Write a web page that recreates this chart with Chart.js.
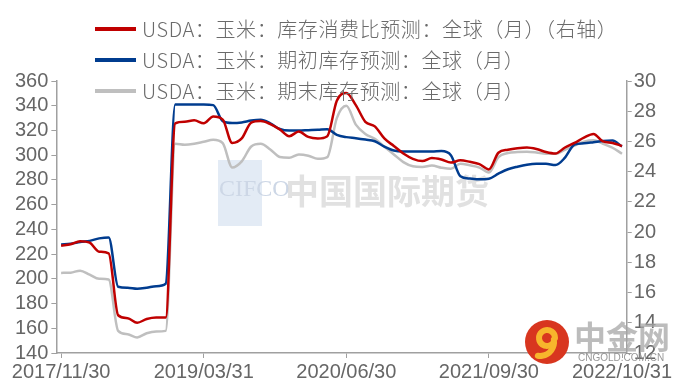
<!DOCTYPE html>
<html>
<head>
<meta charset="utf-8">
<script src="https://cdn.jsdelivr.net/npm/chart.js@4.4.1/dist/chart.umd.min.js"></script>
<style>
  html, body { margin: 0; padding: 0; background: #fff; }
  #wrap { position: relative; width: 680px; height: 392px; }
  #legend { position: absolute; left: 95px; top: 13px; font-family: "Noto Sans CJK SC", sans-serif; font-weight: 300; font-size: 20px; letter-spacing: 0.6px; color: #6a6a6a; }
  #legend div { height: 31px; display: flex; align-items: center; white-space: nowrap; }
  #legend span.sw { display: inline-block; width: 41px; height: 4px; margin-right: 6px; }
</style>
</head>
<body>
<div id="wrap">
  <canvas id="c" width="680" height="392"></canvas>
  <div id="legend"></div>
</div>
<script>
// monthly points, 2017/11 .. 2022/10
const months = [
  '2017-11','2017-12','2018-01','2018-02','2018-03','2018-04','2018-05','2018-06','2018-07','2018-08','2018-09','2018-10',
  '2018-11','2018-12','2019-01','2019-02','2019-03','2019-04','2019-05','2019-06','2019-07','2019-08','2019-09','2019-10',
  '2019-11','2019-12','2020-01','2020-02','2020-03','2020-04','2020-05','2020-06','2020-07','2020-08','2020-09','2020-10',
  '2020-11','2020-12','2021-01','2021-02','2021-03','2021-04','2021-05','2021-06','2021-07','2021-08','2021-09','2021-10',
  '2021-11','2021-12','2022-01','2022-02','2022-03','2022-04','2022-05','2022-06','2022-07','2022-08','2022-09','2022-10'
];

const tickIdx = [0, 15, 30, 45, 59];
const tickText = ['2017/11/30', '2019/03/31', '2020/06/30', '2021/09/30', '2022/10/31'];

// 库存消费比 (%) - right axis
const stockUseRatio = [
  19.1, 19.2, 19.4, 19.3, 18.7, 18.6, 14.5, 14.3, 14.0, 14.25, 14.35, 14.35,
  27.2, 27.3, 27.4, 27.2, 27.65, 27.45, 25.9, 26.2, 27.25, 27.35, 27.15, 26.8,
  26.35, 26.65, 26.3, 26.2, 26.35, 28.7, 29.2, 28.4, 27.3, 27.0, 26.2, 25.7,
  25.2, 24.85, 24.7, 24.9, 24.8, 24.6, 24.75, 24.65, 24.5, 24.15, 25.25, 25.45,
  25.55, 25.6, 25.5, 25.3, 25.2, 25.6, 25.9, 26.25, 26.5, 26.0, 25.9, 25.7
];

// 期初库存 (百万吨)
const beginStocks = [
  227.8, 228.3, 229.7, 230.7, 232.7, 233.5, 193.6, 192.8, 192.0, 192.8, 194.0, 196.0,
  341.0, 341.0, 341.0, 341.0, 340.5, 327.5, 326.0, 326.5, 328.0, 328.6, 325.8, 321.2,
  319.9, 319.9, 320.2, 320.5, 321.0, 316.5, 314.6, 313.7, 312.6, 311.3, 307.0, 303.8,
  303.0, 303.0, 303.0, 303.0, 303.3, 300.0, 283.0, 281.1, 280.5, 281.0, 285.0, 288.6,
  290.7, 292.3, 293.0, 293.0, 292.0, 298.0, 308.6, 309.6, 310.5, 311.5, 311.8, 307.0
];

// 期末库存 (百万吨)
const endStocks = [
  204.8, 205.0, 206.6, 203.4, 200.0, 199.4, 157.9, 155.2, 152.6, 156.0, 157.4, 157.9,
  309.2, 308.4, 309.2, 310.8, 312.4, 309.7, 290.0, 295.0, 307.0, 309.2, 304.6, 298.5,
  297.9, 300.6, 299.6, 297.1, 298.5, 330.0, 340.0, 324.7, 317.2, 313.2, 307.0, 300.6,
  294.4, 291.0, 290.4, 291.6, 289.9, 289.0, 293.1, 291.8, 290.0, 286.0, 298.5, 301.7,
  302.5, 302.8, 302.2, 301.2, 301.2, 304.4, 307.8, 311.0, 312.0, 309.2, 306.0, 301.2
];

const seriesNames = [
  'USDA：玉米：库存消费比预测：全球（月）（右轴）',
  'USDA：玉米：期初库存预测：全球（月）',
  'USDA：玉米：期末库存预测：全球（月）'
];
const seriesColors = ['#C00000', '#003C8F', '#BFBFBF'];

const axisColor = '#A0A0A0';
const textColor = '#666';
const tickFont = { family: 'Liberation Sans', size: 20 };

// watermark + logo drawn on the canvas
const marks = {
  id: 'marks',
  beforeDatasetsDraw(chart) {
    const ctx = chart.ctx;
    ctx.save();
    ctx.fillStyle = 'rgba(200,216,236,0.5)';
    ctx.fillRect(218, 160, 44, 66);
    ctx.font = '24px "Liberation Serif"';
    ctx.fillStyle = 'rgba(205,215,230,1)';
    ctx.textBaseline = 'middle';
    ctx.fillText('CIFCO', 219, 190);
    ctx.font = 'bold 34px "Noto Sans CJK SC"';
    ctx.fillStyle = 'rgba(215,215,215,0.75)';
    ctx.fillText('中国国际期货', 285, 191);
    ctx.restore();
  },
  afterDraw(chart) {
    const ctx = chart.ctx;
    ctx.save();
    ctx.fillStyle = '#D8361F';
    ctx.beginPath();
    ctx.arc(547, 342, 22, 0, Math.PI * 2);
    ctx.fill();
    ctx.strokeStyle = '#F7B52C';
    ctx.lineWidth = 6;
    ctx.lineCap = 'round';
    ctx.beginPath();
    ctx.arc(547, 338, 8, 0.2 * Math.PI, 2.0 * Math.PI);
    ctx.stroke();
    ctx.beginPath();
    ctx.arc(540, 342, 14, -0.05 * Math.PI, 0.55 * Math.PI);
    ctx.stroke();
    ctx.font = 'bold 32px "Noto Sans CJK SC"';
    ctx.fillStyle = 'rgba(165,165,165,0.75)';
    ctx.textBaseline = 'middle';
    ctx.fillText('中金网', 574, 337);
    ctx.font = '10px "Liberation Sans"';
    ctx.fillStyle = 'rgba(140,140,140,0.9)';
    ctx.fillText('CNGOLD.COM.CN', 578, 358);
    ctx.restore();
  }
};

new Chart(document.getElementById('c'), {
  type: 'line',
  data: {
    labels: months,
    datasets: [
      { label: seriesNames[0], data: stockUseRatio, yAxisID: 'y1', borderColor: seriesColors[0] },
      { label: seriesNames[1], data: beginStocks, yAxisID: 'y', borderColor: seriesColors[1] },
      { label: seriesNames[2], data: endStocks, yAxisID: 'y', borderColor: seriesColors[2] }
    ].map(d => Object.assign(d, {
      backgroundColor: d.borderColor,
      borderWidth: 2.5,
      pointRadius: 0,
      cubicInterpolationMode: 'monotone',
      fill: false
    }))
  },
  options: {
    responsive: false,
    animation: false,
    layout: { padding: { left: 12, right: 22, top: 81, bottom: 6 } },
    plugins: { legend: { display: false }, tooltip: { enabled: false } },
    scales: {
      x: {
        type: 'category',
        offset: true,
        afterBuildTicks: axis => { axis.ticks = tickIdx.map(v => ({ value: v })); },
        grid: { drawOnChartArea: false, drawTicks: true, tickLength: 5, color: axisColor, offset: false },
        border: { color: axisColor, width: 1.5 },
        ticks: {
          autoSkip: false,
          maxRotation: 0,
          padding: 2,
          color: textColor,
          font: tickFont,
          callback: (v) => tickText[tickIdx.indexOf(v)]
        }
      },
      y: {
        position: 'left',
        min: 140,
        max: 360,
        grid: { drawOnChartArea: false, tickLength: 5, color: axisColor },
        border: { color: axisColor, width: 1.5 },
        ticks: { stepSize: 20, autoSkip: false, padding: 3, color: textColor, font: tickFont }
      },
      y1: {
        position: 'right',
        min: 12,
        max: 30,
        grid: { drawOnChartArea: false, tickLength: 5, color: axisColor },
        border: { color: axisColor, width: 1.5 },
        ticks: { stepSize: 2, autoSkip: false, padding: 2, color: textColor, font: tickFont }
      }
    }
  },
  plugins: [marks]
});

// legend laid over the chart, like the original
const legend = document.getElementById('legend');
seriesNames.forEach((name, i) => {
  const row = document.createElement('div');
  row.innerHTML = '<span class="sw" style="background:' + seriesColors[i] + '"></span>' + name;
  legend.appendChild(row);
});
</script>
</body>
</html>
